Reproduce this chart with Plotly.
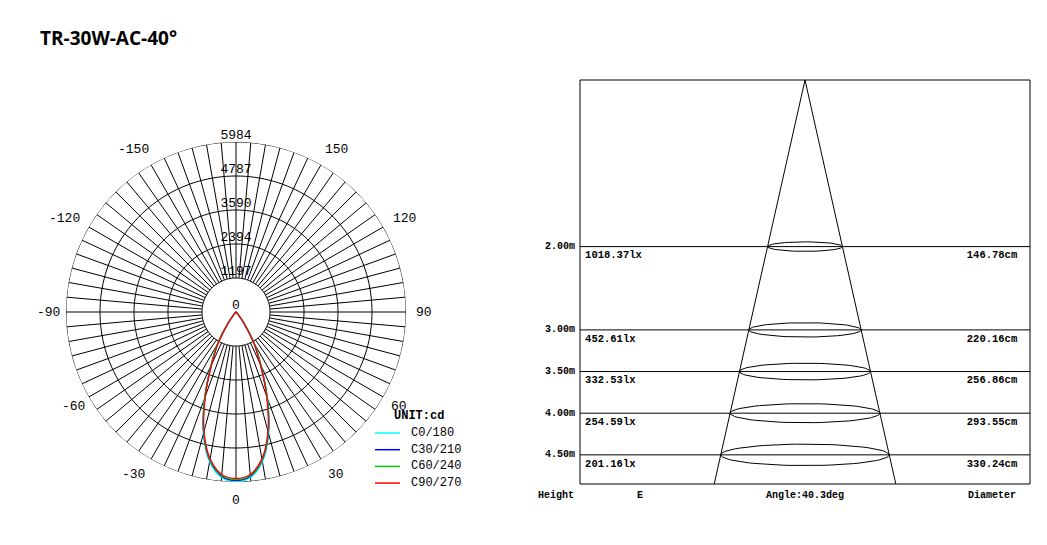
import numpy as np
import plotly.graph_objects as go

W, H = 1047, 545
OFF = 8  # page body margin
FONT = "Liberation Mono"

# polar data (cd)
gamma = [0, 5, 10, 15, 20, 25, 30, 35, 40, 45, 50, 60, 90]
c0_180 = [5984, 5850, 5350, 4450, 3250, 2080, 1280, 520, 160, 40, 10, 0, 0]
c30_210 = [5930, 5800, 5300, 4400, 3200, 2050, 1250, 500, 150, 40, 10, 0, 0]
c60_240 = [5900, 5780, 5280, 4380, 3220, 2080, 1320, 560, 170, 45, 10, 0, 0]
c90_270 = [5860, 5740, 5250, 4350, 3150, 2020, 1220, 480, 140, 35, 8, 0, 0]
ring_vals = [1197, 2394, 3590, 4787, 5984]
angle_labels = [0, 30, 60, 90, 120, 150, -150, -120, -90, -60, -30]

# beam data
heights = [2.0, 3.0, 3.5, 4.0, 4.5]
lux = ["1018.37lx", "452.61lx", "332.53lx", "254.59lx", "201.16lx"]
diam_cm = [146.78, 220.16, 256.86, 293.55, 330.24]
beam_angle = 40.3


def px(x):
    return (x - OFF) / W


def py(y):
    return 1 - (y - OFF) / H


fig = go.Figure()

# polar grid
rmax = ring_vals[-1]
th, rr = [], []
for a in range(0, 360, 5):
    th += [a, a, None]
    rr += [ring_vals[0], rmax, None]
fig.add_trace(go.Scatterpolar(r=rr, theta=th, mode="lines", line=dict(color="black", width=1),
                              showlegend=False, hoverinfo="skip"))
full = np.arange(0, 361, 2)
for v in ring_vals:
    fig.add_trace(go.Scatterpolar(r=[v] * len(full), theta=full, mode="lines",
                                  line=dict(color="black", width=1), showlegend=False, hoverinfo="skip"))
fig.add_trace(go.Scatterpolar(r=[0, 0, None, 0, 0], theta=[-90, 90, None, 0, 180], mode="lines",
                              line=dict(color="black", width=1), showlegend=False, hoverinfo="skip"))

series = [("C0/180", c0_180, "#00ffff"), ("C30/210", c30_210, "#0000ff"),
          ("C60/240", c60_240, "#00cc00"), ("C90/270", c90_270, "#ff0000")]
for name, vals, col in series:
    t = [-g for g in gamma[::-1]] + gamma[1:]
    r = vals[::-1] + vals[1:]
    fig.add_trace(go.Scatterpolar(r=r, theta=t, mode="lines", name=name, showlegend=False,
                                  line=dict(color=col, width=1.3, shape="spline")))

fig.add_trace(go.Scatterpolar(r=[0] + ring_vals, theta=[180] * 6, mode="text",
                              text=["0"] + [str(v) for v in ring_vals], textposition="top center",
                              textfont=dict(family=FONT, size=13, color="black"), showlegend=False, hoverinfo="skip"))

cx, cy, R = 236, 312, 170
fig.update_layout(polar=dict(
    domain=dict(x=[px(cx - R), px(cx + R)], y=[py(cy + R), py(cy - R)]),
    radialaxis=dict(range=[0, rmax], visible=False),
    angularaxis=dict(rotation=-90, direction="counterclockwise", visible=False),
    bgcolor="white"))

ann = []
shapes = []
for a in angle_labels:
    rad = np.radians(a)
    lx = cx + 188 * np.sin(rad)
    ly = cy + 188 * np.cos(rad)
    shift = 0 if a in (0, 90, -90, 60, -60) else (6 if a > 0 else -9)
    ann.append(dict(x=px(lx), y=py(ly), xref="paper", yref="paper", text=str(a), showarrow=False,
                    xanchor="center", yanchor="middle", xshift=shift,
                    font=dict(family=FONT, size=13, color="black")))

# legend drawn by hand (tighter spacing than plotly legend)
ann.append(dict(x=px(392), y=py(416), xref="paper", yref="paper", text="<b>UNIT:cd</b>", showarrow=False,
                xanchor="left", yanchor="middle", font=dict(family=FONT, size=12, color="black")))
for i, (name, vals, col) in enumerate(series):
    yy = 433 + i * 16.7
    shapes.append(dict(type="line", xref="paper", yref="paper", x0=px(375), x1=px(400), y0=py(yy), y1=py(yy),
                       line=dict(color=col, width=1.5)))
    ann.append(dict(x=px(409), y=py(yy), xref="paper", yref="paper", text=name, showarrow=False,
                    xanchor="left", yanchor="middle", font=dict(family=FONT, size=12, color="black")))

# beam cone chart
half = np.tan(np.radians(beam_angle / 2))
hmax = 4.85
fig.add_trace(go.Scatter(x=[-half * hmax, 0, half * hmax], y=[hmax, 0, hmax], mode="lines",
                         line=dict(color="black", width=1), showlegend=False, hoverinfo="skip"))
xr = 4.41
tt = np.linspace(0, 2 * np.pi, 80)
for h, lx_, d in zip(heights, lux, diam_cm):
    fig.add_trace(go.Scatter(x=[-xr, xr], y=[h, h], mode="lines", line=dict(color="black", width=1),
                             showlegend=False, hoverinfo="skip"))
    rx = d / 200
    ry = rx * 0.13 * 51 / 85
    fig.add_trace(go.Scatter(x=rx * np.cos(tt), y=h + ry * np.sin(tt), mode="lines",
                             line=dict(color="black", width=1), showlegend=False, hoverinfo="skip"))
    fig.add_trace(go.Scatter(x=[-xr + 0.1, xr - 0.25], y=[h + 0.11, h + 0.11], mode="text",
                             text=["<b>%s</b>" % lx_, "<b>%.2fcm</b>" % d],
                             textposition=["middle right", "middle left"],
                             textfont=dict(family=FONT, size=10.5, color="black"), showlegend=False,
                             hoverinfo="skip"))
    ann.append(dict(x=-xr, y=h, xref="x", yref="y", text="<b>%.2fm</b>" % h, showarrow=False, xanchor="right",
                    yanchor="middle", xshift=-3, font=dict(family=FONT, size=10, color="black")))

bx0, bx1, by0, by1 = 580, 1030, 80, 484
fig.update_layout(
    xaxis=dict(domain=[px(bx0), px(bx1)], range=[-xr, xr], visible=False),
    yaxis=dict(domain=[py(by1), py(by0)], range=[hmax, 0], visible=False),
)
shapes.append(dict(type="rect", xref="paper", yref="paper", x0=px(bx0), x1=px(bx1), y0=py(by1), y1=py(by0),
                   line=dict(color="black", width=1)))
for txt, x in [("Height", 556), ("E", 640), ("Angle:40.3deg", 805), ("Diameter", 992)]:
    ann.append(dict(x=px(x), y=py(495), xref="paper", yref="paper", text="<b>%s</b>" % txt, showarrow=False,
                    xanchor="center", yanchor="middle", font=dict(family=FONT, size=10, color="black")))

ann.append(dict(x=px(38), y=py(38), xref="paper", yref="paper", text="<b>TR-30W-AC-40°</b>", showarrow=False,
                xanchor="left", yanchor="middle", font=dict(family="Open Sans", size=19, color="black")))

fig.update_layout(
    width=W, height=H, margin=dict(l=0, r=0, t=0, b=0), paper_bgcolor="white", plot_bgcolor="white",
    annotations=ann, shapes=shapes, showlegend=False,
)

fig.write_html("out.html")
